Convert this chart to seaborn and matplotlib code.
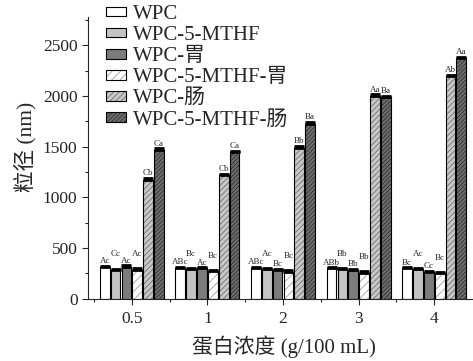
import numpy as np
import pandas as pd
import matplotlib
matplotlib.use('Agg')
import matplotlib.pyplot as plt
from matplotlib.patches import Rectangle, Patch
from matplotlib.ticker import MultipleLocator
import seaborn as sns

# ---- data ----
concentrations = ['0.5', '1', '2', '3', '4']
samples = ['WPC', 'WPC-5-MTHF', 'WPC-胃', 'WPC-5-MTHF-胃', 'WPC-肠', 'WPC-5-MTHF-肠']

wpc = [312, 306, 302, 300, 300]
wpc_mthf = [285, 294, 294, 292, 294]
wpc_stomach = [315, 300, 286, 280, 262]
wpc_mthf_stomach = [278, 268, 262, 254, 252]
wpc_intestine = [1175, 1215, 1490, 2000, 2195]
wpc_mthf_intestine = [1465, 1445, 1725, 1985, 2370]

err_wpc = [10, 8, 8, 8, 8]
err_wpc_mthf = [8, 8, 8, 8, 8]
err_wpc_stomach = [12, 8, 10, 12, 8]
err_wpc_mthf_stomach = [20, 10, 15, 14, 8]
err_wpc_intestine = [15, 12, 15, 15, 15]
err_wpc_mthf_intestine = [18, 15, 20, 15, 15]

letters = [
    ['Ac', 'ABc', 'ABc', 'ABb', 'Bc'],
    ['Cc', 'Bc', 'Ac', 'Bb', 'Ac'],
    ['Ac', 'Ac', 'Bc', 'Bb', 'Cc'],
    ['Ac', 'Bc', 'Bc', 'Bb', 'Bc'],
    ['Cb', 'Cb', 'Bb', 'Aa', 'Ab'],
    ['Ca', 'Ca', 'Ba', 'Ba', 'Aa'],
]

values = [wpc, wpc_mthf, wpc_stomach, wpc_mthf_stomach, wpc_intestine, wpc_mthf_intestine]
errors = [err_wpc, err_wpc_mthf, err_wpc_stomach, err_wpc_mthf_stomach,
          err_wpc_intestine, err_wpc_mthf_intestine]

# which letter labels (series index) are lifted in each group to avoid overlaps
lifted = (1, 3)

df = pd.DataFrame({
    'conc': np.tile(concentrations, len(samples)),
    'sample': np.repeat(samples, len(concentrations)),
    'size': np.concatenate(values),
})

# style per series: facecolor, hatch, hatch colour
faces = ['white', '#c4c4c4', '#7c7c7c', 'white', '#c8c8c8', '#6e6e6e']
hatches = ['', '', '', '////', '//////', '////////']
hatch_cols = ['black', 'black', 'black', '#a0a0a0', '#707070', '#303030']

# ---- plot ----
sns.set_style('ticks')
plt.rcParams['font.family'] = ['Liberation Serif', 'Noto Sans CJK SC']
plt.rcParams['hatch.linewidth'] = 0.6

fig = plt.figure(figsize=(4.73, 3.61), dpi=100)
ax = fig.add_axes([0.186, 0.173, 0.812, 0.78])

sns.barplot(data=df, x='conc', y='size', hue='sample', order=concentrations,
            hue_order=samples, width=0.86, gap=0.1, errorbar=None, legend=False, ax=ax)

bar_containers = list(ax.containers)
for i, cont in enumerate(bar_containers):
    for j, p in enumerate(cont.patches):
        p.set_facecolor(faces[i])
        p.set_hatch(hatches[i])
        p.set_edgecolor(hatch_cols[i])
        p.set_linewidth(0.6)
        # black outline over the hatched bar
        ax.add_patch(Rectangle(p.get_xy(), p.get_width(), p.get_height(),
                               fill=False, edgecolor='black', linewidth=0.8, zorder=3))
        cx = p.get_x() + p.get_width() / 2
        ax.errorbar(cx, values[i][j], yerr=[[0], [errors[i][j]]], fmt='none',
                    ecolor='black', elinewidth=1.0, capsize=3.5, capthick=2, zorder=4)
        extra = 95 if i in lifted else 0
        ax.text(cx, values[i][j] + errors[i][j] + 8 + extra, letters[i][j],
                ha='center', va='bottom', fontsize=6.5)

handles = []
for i in range(len(samples)):
    handles.append((Patch(facecolor=faces[i], hatch=hatches[i], edgecolor=hatch_cols[i], linewidth=0.6),
                    Patch(fill=False, edgecolor='black', linewidth=0.8)))
leg = ax.legend(handles, samples, loc='upper left', bbox_to_anchor=(106 / 473, 1 - 5 / 361),
                bbox_transform=fig.transFigure, frameon=False, fontsize=15,
                handlelength=0.96, handleheight=0.34, handletextpad=0.35,
                labelspacing=0.1, borderpad=0, borderaxespad=0)

ax.set_xlim(-0.58, 4.5)
ax.set_ylim(0, 2780)
ax.yaxis.set_major_locator(MultipleLocator(500))
ax.yaxis.set_minor_locator(MultipleLocator(250))
ax.set_xticks([-0.5, 0.5, 1.5, 2.5, 3.5], minor=True)
ax.tick_params(axis='both', which='major', labelsize=12.5, length=4, width=0.8, direction='out')
ax.tick_params(axis='x', which='major', pad=5)
ax.tick_params(axis='both', which='minor', length=2.5, width=0.8, direction='out')
sns.despine(ax=ax)
for s in ['left', 'bottom']:
    ax.spines[s].set_linewidth(0.8)

ax.set_xlabel('蛋白浓度 (g/100 mL)', fontsize=15)
ax.set_ylabel('粒径 (nm)', fontsize=15.5)
ax.xaxis.set_label_coords(0.51, -0.13)
ax.yaxis.set_label_coords(-0.135, 0.54)

fig.savefig('out.png', dpi=100)
